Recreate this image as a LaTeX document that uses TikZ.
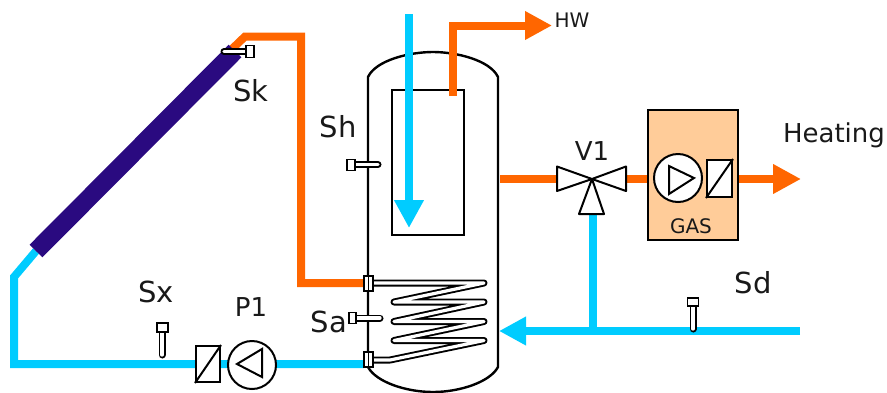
\documentclass[tikz,border=0pt]{standalone}
\usepackage{fontspec}
\setmainfont{DejaVu Sans}
\usetikzlibrary{arrows.meta}
\definecolor{hotpipe}{HTML}{FF6600}
\definecolor{coldpipe}{HTML}{00CCFF}
\definecolor{collector}{HTML}{2A0A80}
\definecolor{gasbox}{HTML}{FFCC99}
\tikzset{
	hot/.style={draw=hotpipe, line width=8pt},
	cold/.style={draw=coldpipe, line width=8pt},
	outline/.style={draw=black, line width=2pt},
	tube/.style={draw=black, double=white, line width=1.9pt, double distance=3.2pt, line cap=round, line join=round},
	head/.style={draw=black, fill=white, line width=1.8pt, inner sep=0pt},
	label/.style={inner sep=0pt, text=black!90, font=\fontsize{29}{29}\selectfont},
	small/.style={inner sep=0pt, text=black!90, font=\fontsize{20}{20}\selectfont},
	tip/.style={-{Triangle[length=#1,width=#1]}},
}

\begin{document}
\begin{tikzpicture}[x=1pt, y=-1pt]
	\useasboundingbox (0,0) rectangle (887,392);
	% storage tank
	\draw[outline, line width=2.4pt] (368,77) .. controls (376,60) and (410,52) .. (433,52) .. controls (456,52) and (490,60) .. (498,77) -- (498,367) .. controls (490,382) and (460,392) .. (433,392) .. controls (406,392) and (376,382) .. (368,367) -- cycle;
	\node[outline, minimum width=72pt, minimum height=145pt, inner sep=0pt] (tank inner) at (428,162.5) {};
	% heat exchanger
	\draw[tube] (373,283) -- (484,283) -- (394,302) -- (484,302) -- (394,321.5) -- (484,321.5) -- (394,340.5) -- (484,340.5) -- (390,360) -- (373,360);
	\coordinate (coll low) at (36,251);
	\coordinate (coll high) at (235,51);
	\coordinate (bend a) at (14,277);
	\coordinate (bend b) at (14,364);
	\coordinate (bend c) at (245,36.5);
	\coordinate (bend d) at (301,36.5);
	\coordinate (bend e) at (301,283);
	\coordinate (coil top) at (364,283);
	\coordinate (coil low) at (364,364);
	\coordinate (main in) at (409,14);
	\coordinate (main tip) at (409,228);
	\coordinate (hw low) at (453,96);
	\coordinate (hw bend) at (453,25.5);
	\coordinate (hw tip) at (552,25.5);
	\coordinate (tank out) at (500,179);
	\coordinate (heat tip) at (801,179);
	\coordinate (ret end) at (800,331);
	\coordinate (ret tip) at (499,331);
	\coordinate (ret tee) at (593,331);
	\coordinate (valve c) at (592,179);
	\coordinate (valve l) at (557,179);
	\coordinate (valve r) at (626,179);
	\coordinate (valve b) at (593,214);
	% pipes
	\draw[cold] (coll low) -- (bend a) -- (bend b) -- (coil low);
	\draw[hot] (232,49) -- (bend c) -- (bend d) -- (bend e) -- (coil top);
	\draw[line width=18pt, draw=collector] (coll low) -- (coll high);
	\draw[cold, tip=28pt] (main in) -- (main tip);
	\draw[hot, tip=27pt] (hw low) -- (hw bend) -- (hw tip);
	\draw[hot] (tank out) -- (valve l);
	\draw[hot] (valve r) -- (648,179);
	\draw[hot, tip=28pt] (738,179) -- (heat tip);
	\draw[cold, tip=27pt] (ret end) -- (ret tip);
	\draw[cold] (valve b) -- (ret tee);
	% valve
	\draw[outline, fill=white, line join=round] (valve c) -- (557,166.5) -- (557,191) -- cycle;
	\draw[outline, fill=white, line join=round] (valve c) -- (626,166.5) -- (626,191) -- cycle;
	\draw[outline, fill=white, line join=round] (valve c) -- (579,214) -- (604,214) -- cycle;
	% gas boiler
	\node[outline, fill=gasbox, minimum width=90pt, minimum height=130pt, inner sep=0pt] (boiler) at (693,175) {};
	\node[outline, fill=white, circle, minimum size=48pt, inner sep=0pt] (boiler pump) at (678,178) {};
	\draw[outline] (669,166) -- (669,194) -- (694,178) -- cycle;
	\node[outline, fill=white, minimum width=25pt, minimum height=37pt, inner sep=0pt] (boiler motor) at (719.5,178.5) {};
	\draw[outline] (boiler motor.south west) -- (boiler motor.north east);
	% solar pump
	\node[outline, fill=white, minimum width=24pt, minimum height=36pt, inner sep=0pt] (solar motor) at (208,364) {};
	\draw[outline] (solar motor.south west) -- (solar motor.north east);
	\node[outline, fill=white, circle, minimum size=48pt, inner sep=0pt] (solar pump) at (252,365) {};
	\draw[outline] (262,349) -- (262,377) -- (237,364) -- cycle;
	% sensors
	\draw[tube] (246,51.5) -- (224,51.5);
	\node[head, minimum width=8pt, minimum height=12pt] (sk head) at (250,51.5) {};
	\draw[tube] (355,164.5) -- (378,164.5);
	\node[head, minimum width=8pt, minimum height=11pt] (sh head) at (351,165) {};
	\draw[tube] (356,318) -- (380,318);
	\node[head, minimum width=7pt, minimum height=11pt] (sa head) at (352.5,318) {};
	\draw[tube] (162,332) -- (162,355);
	\node[head, minimum width=11pt, minimum height=9pt] (sx head) at (162.5,327.5) {};
	\draw[tube] (693,306) -- (693,329);
	\node[head, minimum width=11pt, minimum height=8pt] (sd head) at (693,302) {};
	% fittings
	\node[head, minimum width=9pt, minimum height=15pt] (top fitting) at (368.5,283.5) {};
	\node[head, minimum width=9pt, minimum height=15pt] (low fitting) at (368.5,359.5) {};
	\draw[line width=1.8pt] (top fitting.north) -- (top fitting.south);
	\draw[line width=1.8pt] (low fitting.north) -- (low fitting.south);
	% labels
	\node[label] (sk) at (251,91) {Sk};
	\node[label] (sh) at (338,127) {Sh};
	\node[label] (sx) at (156,292) {Sx};
	\node[label, font=\fontsize{26}{26}\selectfont] (p1) at (251,307) {P1};
	\node[label] (sa) at (329,322) {Sa};
	\node[label, font=\fontsize{26}{26}\selectfont] (v1) at (592,151) {V1};
	\node[label] (sd) at (753,283) {Sd};
	\node[label, font=\fontsize{26}{26}\selectfont] (heating) at (834,135) {Heating};
	\node[small] (hw) at (572,20) {HW};
	\node[small] (gas) at (691,226) {GAS};
\end{tikzpicture}
\end{document}
